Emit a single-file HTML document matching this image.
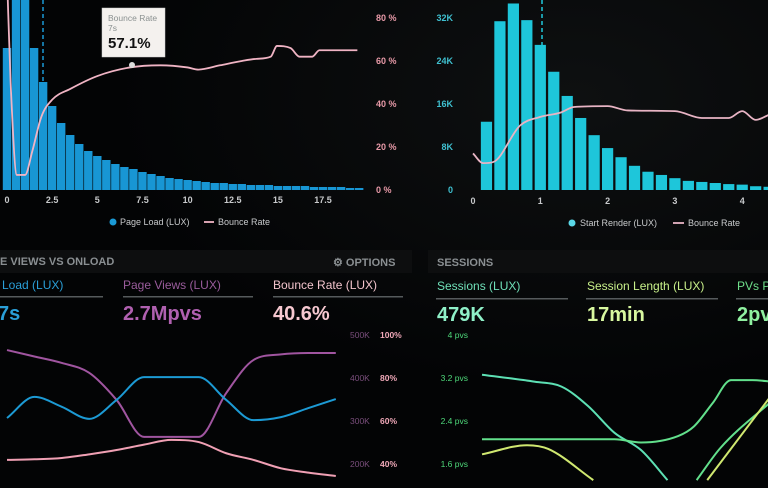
<!DOCTYPE html>
<html><head><meta charset="utf-8">
<style>
html,body{margin:0;padding:0;background:#030405;}
body{width:768px;height:488px;overflow:hidden;font-family:"Liberation Sans",sans-serif;}
svg{display:block}
text{font-family:"Liberation Sans",sans-serif;}
</style></head>
<body>
<svg id="s" width="768" height="488" viewBox="0 0 768 488">
<defs>
<radialGradient id="bg" cx="0.75" cy="0.2" r="0.6">
<stop offset="0" stop-color="#0e1011"/><stop offset="1" stop-color="#030405"/>
</radialGradient>
</defs>
<rect width="768" height="488" fill="url(#bg)"/>
<g id="tl"></g>
<g id="tr"></g>
<g id="bl">
<rect x="0" y="250" width="412" height="23" fill="#0d0e0f"/>
<text x="0" y="265" fill="#8a8f92" font-size="11" font-weight="bold">E VIEWS VS ONLOAD</text>
<text x="333" y="266" fill="#8a8f92" font-size="11" font-weight="bold">⚙ OPTIONS</text>
<text x="2" y="289" fill="#2a9fd8" font-size="12">Load (LUX)</text>
<rect x="0" y="296" width="103" height="1.5" fill="#555a5c"/>
<text x="-2" y="320" fill="#2a9fd8" font-size="20" font-weight="bold">7s</text>
<text x="123" y="289" fill="#9a5c9c" font-size="12">Page Views (LUX)</text>
<rect x="123" y="296" width="130" height="1.5" fill="#555a5c"/>
<text x="123" y="320" fill="#b060b0" font-size="20" font-weight="bold">2.7Mpvs</text>
<text x="273" y="289" fill="#f2c4cc" font-size="12">Bounce Rate (LUX)</text>
<rect x="273" y="296" width="130" height="1.5" fill="#555a5c"/>
<text x="273" y="320" fill="#f6c8d0" font-size="20" font-weight="bold">40.6%</text>
</g>
<g id="br">
<rect x="428" y="250" width="340" height="23" fill="#0d0e0f"/>
<text x="437" y="266" fill="#8a8f92" font-size="11" font-weight="bold">SESSIONS</text>
<text x="437" y="290" fill="#6fe0b8" font-size="12">Sessions (LUX)</text>
<rect x="436" y="298" width="132" height="1.5" fill="#555a5c"/>
<text x="437" y="321" fill="#8ff0c8" font-size="20" font-weight="bold">479K</text>
<text x="587" y="290" fill="#c8f08a" font-size="12">Session Length (LUX)</text>
<rect x="586" y="298" width="132" height="1.5" fill="#555a5c"/>
<text x="587" y="321" fill="#d8f8a0" font-size="20" font-weight="bold">17min</text>
<text x="737" y="290" fill="#6fe08a" font-size="12">PVs Per Session</text>
<rect x="736" y="298" width="40" height="1.5" fill="#555a5c"/>
<text x="737" y="321" fill="#8ff0a0" font-size="20" font-weight="bold">2pvs</text>
</g>
</svg>
<script>
// ---- Top-left: Page Load histogram + bounce rate ----
const tlBarX = [0,0.5,1,1.5,2,2.5,3,3.5,4,4.5,5,5.5,6,6.5,7,7.5,8,8.5,9,9.5,10,10.5,11,11.5,12,12.5,13,13.5,14,14.5,15,15.5,16,16.5,17,17.5,18,18.5,19,19.5];
const tlBarV = [142,200,200,142,108,84,67,55,46,39,34,30,26,23,21,18,16,14,12,11,10,9,8,7,7,6,6,5,5,5,4,4,4,4,3,3,3,3,2,2];
const tlLineX = [0,0.2,0.55,1,1.4,1.9,2.5,3.5,5,6.8,8.5,10,10.6,11.8,13,13.8,14.6,14.95,15.7,16.2,16.9,17.3,19.4];
const tlLineV = [100,50,7,7,18,34,42,47,53,57,58,57,56,58,60,61,62,67,66,62,62,65,65];
const tlXTicks = [0,2.5,5,7.5,10,12.5,15,17.5];
const tlYTicks = [0,20,40,60,80];
// ---- Top-right: Start Render histogram + bounce rate ----
const trBarX = [0.2,0.4,0.6,0.8,1,1.2,1.4,1.6,1.8,2,2.2,2.4,2.6,2.8,3,3.2,3.4,3.6,3.8,4,4.2,4.4,4.6];
const trBarV = [12.7,31.4,34.7,31.6,27,22,17.5,13.4,10.2,7.8,6.1,4.5,3.4,2.8,2.2,1.7,1.5,1.3,1.1,1.0,0.7,0.6,0.5];
const trLineX = [0,0.15,0.3,0.7,1,1.3,1.5,2,2.3,3,3.4,3.8,4,4.2,4.4];
const trLineV = [17,12.5,13,30,34,36,38.6,39,37,36.7,33.5,33.5,36.7,32.6,35];
const trXTicks = [0,1,2,3,4];
const trYTicks = [0,8,16,24,32];
// ---- Bottom-left ----
const blX = [0,1,2,3,4,5,6,7,8,9,10,11,12];
const blViews = [465,450,435,412,349,263,263,263,365,442,455,458,458];
const blLoad = [307,356,333,305,349,402,402,402,349,302,309,330,351];
const blBounce = [41.9,42.2,42.8,44.5,46.5,49,51.2,50.2,45,41.9,38,36,34.4];
const blLeftTicks = [200,300,400,500];
const blRightTicks = [40,60,80,100];
// ---- Bottom-right (pvs) ----
const brTealX = [0,2,3,4,5,6,7];
const brTealV = [3.26,3.13,3.04,2.68,2.18,1.86,1.3];
const brGreenX = [0,5,6,7.4,8,8.7,9.4,10.2,11];
const brGreenV = [2.06,2.06,2.0,2.12,2.3,2.73,3.16,3.16,3.13];
const brGreen2X = [8.1,9,11];
const brGreen2V = [1.3,1.9,2.8];
const brYellowX = [0,1.7,2.5,4.2];
const brYellowV = [1.78,1.95,1.88,1.3];
const brYellow2X = [8.5,11];
const brYellow2V = [1.3,2.93];
const brTicks = [1.6,2.4,3.2,4];

const NS='http://www.w3.org/2000/svg';
function mk(parent,tag,attrs){const e=document.createElementNS(NS,tag);for(const k in attrs)e.setAttribute(k,attrs[k]);parent.appendChild(e);return e;}
// monotone cubic (no overshoot)
function smooth(pts){const n=pts.length;if(n<3){return 'M'+pts.map(p=>p[0]+','+p[1]).join(' L');}
const d=[],m=[];for(let i=0;i<n-1;i++)d.push((pts[i+1][1]-pts[i][1])/(pts[i+1][0]-pts[i][0]));
m[0]=d[0];m[n-1]=d[n-2];for(let i=1;i<n-1;i++){m[i]=(d[i-1]*d[i]<=0)?0:(d[i-1]+d[i])/2;}
for(let i=0;i<n-1;i++){if(d[i]===0){m[i]=0;m[i+1]=0;continue;}const a=m[i]/d[i],b=m[i+1]/d[i],s=a*a+b*b;if(s>9){const t=3/Math.sqrt(s);m[i]=t*a*d[i];m[i+1]=t*b*d[i];}}
let p='M'+pts[0][0]+','+pts[0][1];for(let i=0;i<n-1;i++){const h=(pts[i+1][0]-pts[i][0])/3;
p+=' C'+(pts[i][0]+h)+','+(pts[i][1]+m[i]*h)+' '+(pts[i+1][0]-h)+','+(pts[i+1][1]-m[i+1]*h)+' '+pts[i+1][0]+','+pts[i+1][1];}return p;}

// Top-left
(function(){
const g=document.getElementById('tl');
const x=v=>7+v*18.06, yB=v=>190-v, yP=v=>190-v*43/20;
mk(g,'line',{x1:43,y1:0,x2:43,y2:190,stroke:'#1a9ad6','stroke-width':1.5,'stroke-dasharray':'4,3'});
tlBarV.forEach((v,i)=>{const b=mk(g,'rect',{x:x(tlBarX[i])-4.2,y:Math.max(0,yB(v)),width:8.4,height:190-Math.max(0,yB(v)),fill:'#1896d4'});

});
const p=mk(g,'path',{d:smooth(tlLineX.map((v,i)=>[x(v),yP(tlLineV[i])])),fill:'none',stroke:'#f0b4c4','stroke-width':1.8});


tlXTicks.forEach(t=>{const e=mk(g,'text',{x:x(t),y:203,fill:'#c8cacc','font-size':9,'text-anchor':'middle','font-weight':'bold'});e.textContent=t;

});
tlYTicks.forEach(t=>{const e=mk(g,'text',{x:376,y:yP(t)+3,fill:'#e89aa8','font-size':9,'font-weight':'bold'});e.textContent=t+' %';

});
const tt=mk(g,'g',{});


mk(tt,'rect',{x:102,y:8,width:63,height:49,fill:'#f4f1ee',stroke:'#ccc','stroke-width':0.5});
const t1=mk(tt,'text',{x:108,y:21,fill:'#8a9090','font-size':8.5});t1.textContent='Bounce Rate';
const t2=mk(tt,'text',{x:108,y:31,fill:'#8a9090','font-size':8.5});t2.textContent='7s';
const t3=mk(tt,'text',{x:108,y:48,fill:'#111','font-size':15,'font-weight':'bold'});t3.textContent='57.1%';
mk(tt,'circle',{cx:132,cy:65,r:3,fill:'#ddd'});
const lg=mk(g,'g',{});


mk(lg,'circle',{cx:113,cy:222,r:3.5,fill:'#1a9ad6'});
const l1=mk(lg,'text',{x:120,y:225,fill:'#c8cacc','font-size':9});l1.textContent='Page Load (LUX)';
mk(lg,'line',{x1:204,y1:222,x2:214,y2:222,stroke:'#f0b4c4','stroke-width':1.8});
const l2=mk(lg,'text',{x:218,y:225,fill:'#c8cacc','font-size':9});l2.textContent='Bounce Rate';
})();

// Top-right
(function(){
const g=document.getElementById('tr');
const x=v=>473+v*67.3, yK=v=>190-v*43/8, yP=v=>190-v*43/20;
mk(g,'line',{x1:542,y1:0,x2:542,y2:190,stroke:'#1fc8dc','stroke-width':1.5,'stroke-dasharray':'4,3'});
trBarV.forEach((v,i)=>{const b=mk(g,'rect',{x:x(trBarX[i])-5.6,y:yK(v),width:11.2,height:190-yK(v),fill:'#1ec6da'});

});
const p=mk(g,'path',{d:smooth(trLineX.map((v,i)=>[x(v),yP(trLineV[i])])),fill:'none',stroke:'#e8b4c4','stroke-width':1.8});


trXTicks.forEach(t=>{const e=mk(g,'text',{x:x(t),y:204,fill:'#c8cacc','font-size':9,'text-anchor':'middle','font-weight':'bold'});e.textContent=t;

});
trYTicks.forEach(t=>{const e=mk(g,'text',{x:453,y:yK(t)+3,fill:'#3fc0d0','font-size':9,'text-anchor':'end','font-weight':'bold'});e.textContent=t?t+'K':'0';

});
const lg=mk(g,'g',{});


mk(lg,'circle',{cx:572,cy:223,r:3.5,fill:'#5ad8e8'});
const l1=mk(lg,'text',{x:580,y:226,fill:'#c8cacc','font-size':9});l1.textContent='Start Render (LUX)';
mk(lg,'line',{x1:673,y1:223,x2:684,y2:223,stroke:'#e8b4c4','stroke-width':1.8});
const l2=mk(lg,'text',{x:688,y:226,fill:'#c8cacc','font-size':9});l2.textContent='Bounce Rate';
})();

// Bottom-left
(function(){
const g=document.getElementById('bl');
const x=v=>7+v*27.4, yK=v=>335+(500-v)*0.43, yP=v=>335+(100-v)*43/20;
const series=[[blViews,yK,'#a055a0','page-views-line'],[blLoad,yK,'#1c9ad4','page-load-line'],[blBounce,yP,'#f0a0b4','bounce-rate-line']];
series.forEach(s=>{const p=mk(g,'path',{d:smooth(s[0].map((v,i)=>[x(blX[i]),s[1](v)])),fill:'none',stroke:s[2],'stroke-width':2});

});
blLeftTicks.forEach(t=>{const e=mk(g,'text',{x:350,y:yK(t)+3,fill:'#7a4e7c','font-size':8.5});e.textContent=t+'K';

});
blRightTicks.forEach(t=>{const e=mk(g,'text',{x:380,y:yP(t)+3,fill:'#f0a8b8','font-size':8.5,'font-weight':'bold'});e.textContent=t+'%';

});
})();

// Bottom-right
(function(){
const g=document.getElementById('br');
const x=v=>482+v*26.5, y=v=>335+(4-v)*43/0.8;
const series=[[brTealX,brTealV,'#5de0b4','session-teal-line'],[brGreenX,brGreenV,'#62e08c','session-green-line'],[brGreen2X,brGreen2V,'#62e08c','session-green2-line'],[brYellowX,brYellowV,'#d0e870','session-yellow-line'],[brYellow2X,brYellow2V,'#d0e870','session-yellow2-line']];
series.forEach(s=>{const p=mk(g,'path',{d:smooth(s[0].map((v,i)=>[x(v),y(s[1][i])])),fill:'none',stroke:s[2],'stroke-width':2});

});
brTicks.forEach(t=>{const e=mk(g,'text',{x:468,y:y(t)+3,fill:'#4ed87a','font-size':8.5,'text-anchor':'end'});e.textContent=t+' pvs';

});
})();
</script>
</body></html>
